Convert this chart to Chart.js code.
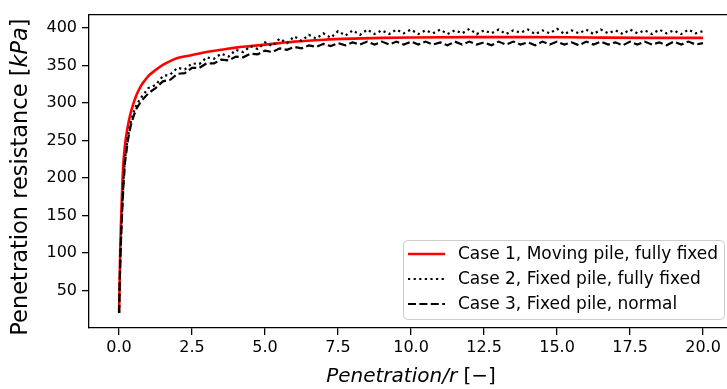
<!DOCTYPE html>
<html>
<head>
<meta charset="utf-8">
<script src="https://cdn.jsdelivr.net/npm/chart.js@4.4.1/dist/chart.umd.min.js"></script>
<style>
  html, body { margin: 0; padding: 0; background: #fff; }
  #wrap { width: 727px; height: 389px; }
</style>
</head>
<body>
<div id="wrap"><canvas id="chart" width="727" height="389"></canvas></div>
<script>
// Case 1 - moving pile, fully fixed (smooth red curve)
var case1X = [0, 0.02, 0.04, 0.07, 0.1, 0.14, 0.2, 0.28, 0.38, 0.48, 0.6, 0.75, 0.9, 1.0, 1.25, 1.5, 1.75, 2.0, 2.5, 3.0,
              3.5, 4.0, 4.5, 5.0, 5.5, 6.0, 7.0, 8.0, 9.0, 10, 12, 14, 16, 18, 20];
var case1Y = [20, 65, 105, 145, 180, 215, 243, 265, 284, 298, 311, 323, 331, 336, 344, 351, 356, 360, 364, 368,
              371, 374, 376, 378, 380, 382, 384.5, 386, 387, 387.5, 388, 388, 387.5, 387, 387];

// Cases 2 and 3 share the same sampling in penetration
var caseX = [0, 0.02, 0.05, 0.1, 0.15, 0.2, 0.3, 0.4, 0.5, 0.6, 0.75,
             1.0, 1.25, 1.5, 1.75, 2.0, 2.25, 2.5, 2.75, 3.0, 3.25, 3.5, 3.75, 4.0, 4.25, 4.5, 4.75,
             5.0, 5.25, 5.5, 5.75, 6.0, 6.25, 6.5, 6.75, 7.0, 7.25, 7.5, 7.75, 8.0, 8.25, 8.5, 8.75,
             9.0, 9.25, 9.5, 9.75, 10.0, 10.25, 10.5, 10.75, 11.0, 11.25, 11.5, 11.75, 12.0, 12.25, 12.5, 12.75,
             13.0, 13.25, 13.5, 13.75, 14.0, 14.25, 14.5, 14.75, 15.0, 15.25, 15.5, 15.75, 16.0, 16.25, 16.5, 16.75,
             17.0, 17.25, 17.5, 17.75, 18.0, 18.25, 18.5, 18.75, 19.0, 19.25, 19.5, 19.75, 20.0];
// Case 2 - fixed pile, fully fixed (dotted)
var case2Y = [20, 58, 105, 155, 195, 224, 255, 275, 288, 298, 307,
              320, 324, 336, 338, 347, 345, 353, 352, 361, 359, 366, 362, 371, 368, 376, 372,
              381, 376, 386, 380, 389, 383, 391, 386, 393, 387, 396, 390, 397, 391, 398, 392,
              397, 392, 398, 393, 398, 392, 397, 393, 398, 392, 397, 393, 399, 392, 397, 393,
              398, 392, 397, 394, 398, 392, 397, 393, 399, 392, 397, 393, 398, 392, 398, 393,
              397, 392, 398, 393, 397, 392, 398, 393, 397, 392, 398, 393, 396];
// Case 3 - fixed pile, normal (dashed)
var case3Y = [20, 55, 100, 150, 190, 220, 250, 270, 283, 293, 302,
              313, 320, 329, 331, 339, 340, 347, 347, 353, 353, 358, 357, 362, 361, 366, 365,
              370, 368, 373, 371, 375, 373, 377, 375, 379, 376, 380, 377, 381, 378, 382, 378,
              382, 378, 382, 378, 382, 378, 382, 378, 381, 377, 382, 378, 382, 378, 381, 377,
              382, 378, 382, 378, 381, 377, 382, 378, 382, 378, 381, 377, 382, 378, 382, 378,
              381, 377, 382, 378, 382, 378, 381, 377, 382, 378, 382, 378, 380];

var seriesLabels = ['Case 1, Moving pile, fully fixed', 'Case 2, Fixed pile, fully fixed', 'Case 3, Fixed pile, normal'];
var xTicks = [0, 2.5, 5, 7.5, 10, 12.5, 15, 17.5, 20];
var yTicks = [50, 100, 150, 200, 250, 300, 350, 400];

function toPoints(xs, ys) {
    return xs.map(function (x, i) { return { x: x, y: ys[i] }; });
}

var FONT = 'DejaVu Sans';

function drawParts(ctx, parts, x, y) {
    // draws a run of text pieces with different fonts, centred on x
    var total = 0;
    parts.forEach(function (p) { ctx.font = p.f; p.w = ctx.measureText(p.t).width; total += p.w; });
    var cx = x - total / 2;
    parts.forEach(function (p) {
        ctx.font = p.f;
        ctx.fillText(p.t, cx, y);
        cx += p.w;
    });
}

var extras = {
    id: 'extras',
    afterDraw: function (chart) {
        var ctx = chart.ctx, a = chart.chartArea;
        ctx.save();
        // top spine
        ctx.strokeStyle = '#000';
        ctx.lineWidth = 1.3;
        ctx.beginPath();
        ctx.moveTo(a.left - 0.6, a.top);
        ctx.lineTo(a.right, a.top);
        ctx.stroke();

        ctx.fillStyle = '#000';
        ctx.textAlign = 'left';
        ctx.textBaseline = 'middle';
        // x title
        drawParts(ctx, [
            { t: 'Penetration/r', f: 'italic 20px ' + FONT },
            { t: ' [\u2212]', f: '20px ' + FONT }
        ], (a.left + a.right) / 2 + 3, 377);
        // y title
        ctx.save();
        ctx.translate(21, 177);
        ctx.rotate(-Math.PI / 2);
        drawParts(ctx, [
            { t: 'Penetration resistance [', f: '22.5px ' + FONT },
            { t: 'kPa', f: 'italic 22.5px ' + FONT },
            { t: ']', f: '22.5px ' + FONT }
        ], 0, 0);
        ctx.restore();

        // legend
        var bx = 403, by = 240, bw = 321, bh = 79;
        ctx.fillStyle = 'rgba(255,255,255,0.8)';
        ctx.strokeStyle = '#cccccc';
        ctx.lineWidth = 1;
        ctx.beginPath();
        ctx.roundRect(bx + 0.5, by + 0.5, bw, bh, 4);
        ctx.fill();
        ctx.stroke();
        chart.data.datasets.forEach(function (ds, i) {
            var ry = by + 14 + i * 25;
            ctx.strokeStyle = ds.borderColor;
            ctx.lineWidth = ds.borderWidth;
            ctx.setLineDash(ds.borderDash || []);
            ctx.beginPath();
            ctx.moveTo(bx + 5, ry);
            ctx.lineTo(bx + 42, ry);
            ctx.stroke();
            ctx.setLineDash([]);
            ctx.fillStyle = '#000';
            ctx.font = '17px ' + FONT;
            ctx.textAlign = 'left';
            ctx.fillText(ds.label, bx + 55, ry + 1);
        });
        ctx.restore();
    }
};

new Chart(document.getElementById('chart'), {
    type: 'line',
    data: {
        datasets: [{
            label: seriesLabels[0],
            data: toPoints(case1X, case1Y),
            borderColor: '#ff0000',
            borderWidth: 2.6,
            cubicInterpolationMode: 'monotone',
            order: 2
        }, {
            label: seriesLabels[1],
            data: toPoints(caseX, case2Y),
            borderColor: '#000000',
            borderWidth: 2.2,
            borderDash: [2.2, 3.4],
            order: 1
        }, {
            label: seriesLabels[2],
            data: toPoints(caseX, case3Y),
            borderColor: '#000000',
            borderWidth: 2.2,
            borderDash: [8, 3.4],
            order: 0
        }]
    },
    options: {
        responsive: false,
        animation: false,
        devicePixelRatio: 1,
        layout: { padding: { top: 7, right: 0, left: 0, bottom: 0 } },
        elements: { point: { radius: 0 }, line: { tension: 0, fill: false } },
        plugins: { legend: { display: false }, tooltip: { enabled: false } },
        scales: {
            x: {
                type: 'linear',
                min: -1.03,
                max: 20.82,
                afterBuildTicks: function (s) { s.ticks = xTicks.map(function (v) { return { value: v }; }); },
                afterFit: function (s) { s.height = 61; },
                ticks: {
                    color: '#000',
                    font: { family: FONT, size: 16 },
                    padding: 3,
                    maxRotation: 0,
                    autoSkip: false,
                    callback: function (v) { return v.toFixed(1); }
                },
                grid: { drawOnChartArea: false, tickLength: 7, color: '#000', lineWidth: 1.3 },
                border: { color: '#000', width: 1.3 }
            },
            y: {
                type: 'linear',
                min: 0,
                max: 418,
                afterBuildTicks: function (s) { s.ticks = yTicks.map(function (v) { return { value: v }; }); },
                afterFit: function (s) { s.width = 89; },
                ticks: {
                    color: '#000',
                    font: { family: FONT, size: 16 },
                    padding: 5,
                    autoSkip: false
                },
                grid: { drawOnChartArea: false, tickLength: 7, color: '#000', lineWidth: 1.3 },
                border: { color: '#000', width: 1.3 }
            }
        }
    },
    plugins: [extras]
});
</script>
</body>
</html>
